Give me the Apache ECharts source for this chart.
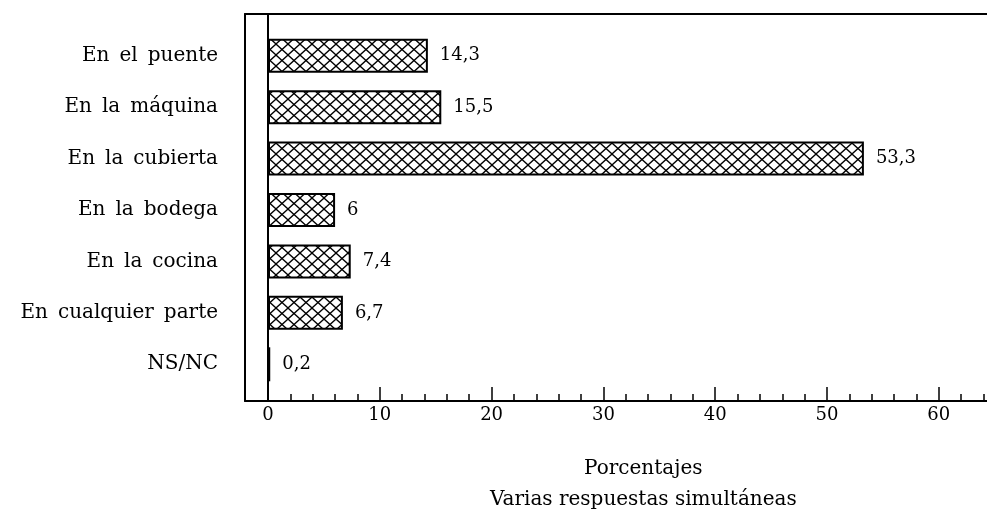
<!DOCTYPE html>
<html>
<head>
<meta charset="utf-8">
<script src="https://cdn.jsdelivr.net/npm/echarts@6/dist/echarts.min.js"></script>
<style>
html,body{margin:0;padding:0;background:#fff;}
#c{width:987px;height:519px;}
</style>
</head>
<body>
<div id="c"></div>
<script>
const categories = ['En el puente', 'En la máquina', 'En la cubierta', 'En la bodega', 'En la cocina', 'En cualquier parte', 'NS/NC'];
const values = [14.3, 15.5, 53.3, 6, 7.4, 6.7, 0.2];
const xTickLabels = ['0', '10', '20', '30', '40', '50', '60'];
const axisTitle = 'Porcentajes';
const subTitle = 'Varias respuestas simultáneas';

const FONT = 'DejaVu Serif';

// crosshatch pattern
const pc = document.createElement('canvas');
pc.width = 12; pc.height = 11;
const g = pc.getContext('2d');
g.fillStyle = '#fff'; g.fillRect(0, 0, 12, 11);
g.strokeStyle = '#000'; g.lineWidth = 1.3;
g.beginPath();
g.moveTo(0, 0); g.lineTo(12, 11);
g.moveTo(12, 0); g.lineTo(0, 11);
g.stroke();

const chart = echarts.init(document.getElementById('c'), null, {renderer: 'canvas'});
const lineStyle = {color: '#000', width: 2};
const frameAxis = function (extra) {
  return Object.assign({
    gridIndex: 1, type: 'value', min: 0, max: 1,
    axisLine: {show: true, onZero: false, lineStyle: lineStyle},
    axisTick: {show: false}, axisLabel: {show: false}, splitLine: {show: false}
  }, extra);
};
chart.setOption({
  backgroundColor: '#fff',
  animation: false,
  grid: [
    {left: 268, width: 782.6, top: 30, bottom: 129, outerBoundsMode: 'none', containLabel: false},
    {left: 245, right: 0, top: 14, bottom: 118, outerBoundsMode: 'none', containLabel: false}
  ],
  xAxis: [
    {
      gridIndex: 0, type: 'value', min: 0, max: 70, interval: 10,
      offset: 11,
      axisLine: {show: true, onZero: false, lineStyle: lineStyle},
      axisTick: {show: true, inside: true, length: 14, lineStyle: {color: '#000', width: 1.5}},
      minorTick: {show: true, splitNumber: 5, length: 7, lineStyle: {color: '#000', width: 1.5}},
      splitLine: {show: false},
      axisLabel: {
        show: true, margin: 5, color: '#000', fontFamily: FONT, fontSize: 18,
        formatter: function (v) { const i = xTickLabels.indexOf(String(v)); return i >= 0 ? xTickLabels[i] : ''; }
      },
      name: axisTitle + '\n' + subTitle,
      nameLocation: 'middle', nameGap: 52,
      nameTextStyle: {color: '#000', fontFamily: FONT, fontSize: 20, lineHeight: 31, padding: [0, 32, 0, 0]}
    },
    frameAxis({position: 'top'}),
    frameAxis({position: 'bottom'})
  ],
  yAxis: [
    {
      gridIndex: 0, type: 'category', data: categories, inverse: true,
      axisLine: {show: false}, axisTick: {show: false},
      axisLabel: {
        color: '#000', fontFamily: FONT, fontSize: 20, margin: 50,
        formatter: function (v) { return v.replace(/ /g, '\u2002'); }
      }
    },
    frameAxis({position: 'left'}),
    frameAxis({position: 'left', offset: -23})
  ],
  series: [{
    type: 'bar', xAxisIndex: 0, yAxisIndex: 0,
    data: values, barWidth: 34,
    itemStyle: {color: {image: pc, repeat: 'repeat'}, borderColor: '#000', borderWidth: 2},
    label: {
      show: true, position: 'right', distance: 12, color: '#000', fontFamily: FONT, fontSize: 18,
      formatter: function (p) { return String(p.value).replace('.', ','); }
    }
  }]
});
</script>
</body>
</html>
